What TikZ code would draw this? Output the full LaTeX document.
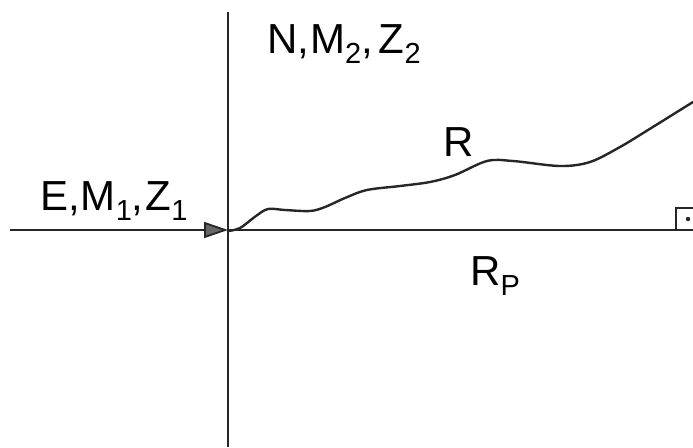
\documentclass[tikz,border=0pt]{standalone}
\usepackage{fontspec}
\setmainfont{Liberation Sans}
\usetikzlibrary{arrows.meta}
\newcommand{\lsub}[1]{\raisebox{-10pt}{\fontsize{29}{29}\selectfont #1}}
\begin{document}
\begin{tikzpicture}[x=1pt,y=-1pt,
  axis/.style={line width=1.8pt,black!85},
  curveline/.style={line width=2.4pt,black!85,line join=round,line cap=round},
  lbl/.style={anchor=base west,inner sep=0pt,font=\fontsize{42}{42}\selectfont}]
\useasboundingbox (0,0) rectangle (693,447);
% axes
\coordinate (O) at (228,230);
\coordinate (L) at (10,230);
\coordinate (Rt) at (693,230);
\coordinate (T) at (228,12);
\coordinate (B) at (228,447);
\draw[axis] (T) -- (B);
\draw[axis] (O) -- (Rt);
\draw[axis,-{Triangle[length=24pt,width=16pt,fill=black!60]}] (L) -- (O);
% path
\coordinate (E) at (693,102);
\draw[curveline] plot[smooth,tension=0.55] coordinates {(228,231) (240,228) (256,216) (268,209) (285,210) (310,211) (325,207) (345,198) (367,190) (400,186) (430,182) (455,175) (487,161) (513,161) (560,166) (590,162) (620,147) (648,130) (693,102)};
% right angle mark
\coordinate (RA) at (676,230);
\draw[line width=1.8pt,black!85] (RA) -- ++(0,-22) -- ++(20,0);
\fill[black!85] (688,219) circle (2.2pt);
% labels
\node[lbl] (nmz) at (267,53) {N,\kern1pt M\lsub{2},\kern6pt Z\lsub{2}};
\node[lbl] (emz) at (40,210) {E,\kern1pt M\lsub{1},\kern2pt Z\lsub{1}};
\node[lbl] (r) at (443,156) {R};
\node[lbl] (rp) at (470,285) {R\lsub{P}};
\end{tikzpicture}
\end{document}
